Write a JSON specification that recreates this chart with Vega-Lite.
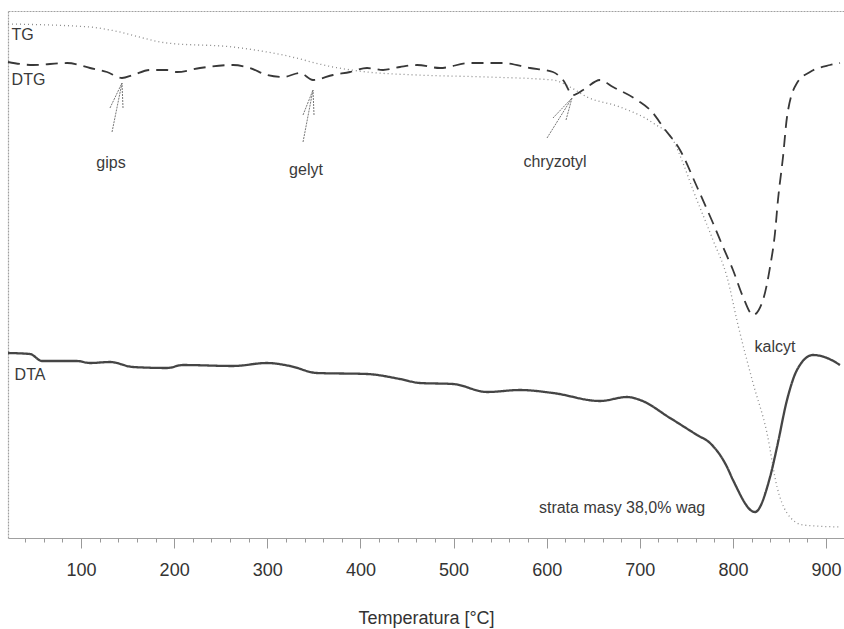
{
  "$schema": "https://vega.github.io/schema/vega-lite/v6.json",
  "width": 836,
  "height": 527,
  "autosize": {"type": "none"},
  "padding": {"left": 8, "top": 11, "right": 0, "bottom": 91},
  "background": "white",
  "config": {
    "view": {"stroke": null},
    "axisY": {"labels": false, "ticks": false, "grid": false, "domain": true, "domainColor": "#a0a0a0", "domainWidth": 1.2, "domainDash": [2, 1]},
    "axisX": {"grid": false}
  },
  "datasets": {
    "curves": [
      {"T": 21.6, "v": 514, "series": "TG"},
      {"T": 109.7, "v": 511, "series": "TG"},
      {"T": 131.1, "v": 508, "series": "TG"},
      {"T": 192.3, "v": 495, "series": "TG"},
      {"T": 263.2, "v": 491, "series": "TG"},
      {"T": 316.9, "v": 483, "series": "TG"},
      {"T": 370.6, "v": 471, "series": "TG"},
      {"T": 407.1, "v": 466, "series": "TG"},
      {"T": 460.8, "v": 463, "series": "TG"},
      {"T": 536.0, "v": 461, "series": "TG"},
      {"T": 606.8, "v": 458, "series": "TG"},
      {"T": 625.1, "v": 451, "series": "TG"},
      {"T": 643.4, "v": 441, "series": "TG"},
      {"T": 678.8, "v": 431, "series": "TG"},
      {"T": 714.2, "v": 415, "series": "TG"},
      {"T": 735.7, "v": 398, "series": "TG"},
      {"T": 746.4, "v": 375, "series": "TG"},
      {"T": 757.2, "v": 348, "series": "TG"},
      {"T": 778.6, "v": 298, "series": "TG"},
      {"T": 793.7, "v": 261, "series": "TG"},
      {"T": 805.5, "v": 213, "series": "TG"},
      {"T": 821.6, "v": 155, "series": "TG"},
      {"T": 836.6, "v": 105, "series": "TG"},
      {"T": 847.4, "v": 51, "series": "TG"},
      {"T": 858.1, "v": 25, "series": "TG"},
      {"T": 875.3, "v": 13, "series": "TG"},
      {"T": 915.0, "v": 11, "series": "TG"},

      {"T": 21.6, "v": 476, "series": "DTG"},
      {"T": 48.5, "v": 473, "series": "DTG"},
      {"T": 85.0, "v": 475, "series": "DTG"},
      {"T": 109.7, "v": 470, "series": "DTG"},
      {"T": 127.9, "v": 466, "series": "DTG"},
      {"T": 144.0, "v": 460, "series": "DTG"},
      {"T": 155.8, "v": 463, "series": "DTG"},
      {"T": 174.1, "v": 468, "series": "DTG"},
      {"T": 192.3, "v": 468, "series": "DTG"},
      {"T": 203.1, "v": 466, "series": "DTG"},
      {"T": 227.8, "v": 470, "series": "DTG"},
      {"T": 263.2, "v": 473, "series": "DTG"},
      {"T": 281.5, "v": 470, "series": "DTG"},
      {"T": 299.7, "v": 463, "series": "DTG"},
      {"T": 316.9, "v": 461, "series": "DTG"},
      {"T": 335.2, "v": 465, "series": "DTG"},
      {"T": 349.1, "v": 458, "series": "DTG"},
      {"T": 370.6, "v": 463, "series": "DTG"},
      {"T": 388.9, "v": 466, "series": "DTG"},
      {"T": 407.1, "v": 470, "series": "DTG"},
      {"T": 424.3, "v": 468, "series": "DTG"},
      {"T": 442.5, "v": 471, "series": "DTG"},
      {"T": 460.8, "v": 473, "series": "DTG"},
      {"T": 485.5, "v": 470, "series": "DTG"},
      {"T": 517.7, "v": 475, "series": "DTG"},
      {"T": 553.1, "v": 475, "series": "DTG"},
      {"T": 582.1, "v": 470, "series": "DTG"},
      {"T": 606.8, "v": 466, "series": "DTG"},
      {"T": 617.6, "v": 458, "series": "DTG"},
      {"T": 628.3, "v": 443, "series": "DTG"},
      {"T": 639.1, "v": 448, "series": "DTG"},
      {"T": 657.3, "v": 458, "series": "DTG"},
      {"T": 671.3, "v": 451, "series": "DTG"},
      {"T": 697.0, "v": 438, "series": "DTG"},
      {"T": 714.2, "v": 425, "series": "DTG"},
      {"T": 725.0, "v": 411, "series": "DTG"},
      {"T": 743.2, "v": 388, "series": "DTG"},
      {"T": 761.5, "v": 351, "series": "DTG"},
      {"T": 778.6, "v": 315, "series": "DTG"},
      {"T": 789.4, "v": 291, "series": "DTG"},
      {"T": 800.1, "v": 268, "series": "DTG"},
      {"T": 810.9, "v": 241, "series": "DTG"},
      {"T": 821.6, "v": 223, "series": "DTG"},
      {"T": 832.3, "v": 238, "series": "DTG"},
      {"T": 839.9, "v": 271, "series": "DTG"},
      {"T": 845.2, "v": 305, "series": "DTG"},
      {"T": 848.4, "v": 338, "series": "DTG"},
      {"T": 853.8, "v": 381, "series": "DTG"},
      {"T": 858.1, "v": 421, "series": "DTG"},
      {"T": 868.8, "v": 455, "series": "DTG"},
      {"T": 882.8, "v": 466, "series": "DTG"},
      {"T": 904.3, "v": 473, "series": "DTG"},
      {"T": 915.0, "v": 475, "series": "DTG"},

      {"T": 21.6, "v": 185, "series": "DTA"},
      {"T": 45.2, "v": 184, "series": "DTA"},
      {"T": 58.1, "v": 177, "series": "DTA"},
      {"T": 95.7, "v": 177, "series": "DTA"},
      {"T": 109.7, "v": 175, "series": "DTA"},
      {"T": 131.1, "v": 176, "series": "DTA"},
      {"T": 155.8, "v": 171, "series": "DTA"},
      {"T": 192.3, "v": 170, "series": "DTA"},
      {"T": 209.5, "v": 173, "series": "DTA"},
      {"T": 263.2, "v": 172, "series": "DTA"},
      {"T": 299.7, "v": 175, "series": "DTA"},
      {"T": 324.4, "v": 172, "series": "DTA"},
      {"T": 353.4, "v": 165, "series": "DTA"},
      {"T": 407.1, "v": 164, "series": "DTA"},
      {"T": 442.5, "v": 159, "series": "DTA"},
      {"T": 464.0, "v": 155, "series": "DTA"},
      {"T": 499.5, "v": 154, "series": "DTA"},
      {"T": 536.0, "v": 146, "series": "DTA"},
      {"T": 571.4, "v": 148, "series": "DTA"},
      {"T": 606.8, "v": 145, "series": "DTA"},
      {"T": 657.3, "v": 137, "series": "DTA"},
      {"T": 686.3, "v": 141, "series": "DTA"},
      {"T": 700.3, "v": 138, "series": "DTA"},
      {"T": 732.5, "v": 120, "series": "DTA"},
      {"T": 761.5, "v": 103, "series": "DTA"},
      {"T": 775.4, "v": 95, "series": "DTA"},
      {"T": 793.7, "v": 71, "series": "DTA"},
      {"T": 800.1, "v": 58, "series": "DTA"},
      {"T": 823.7, "v": 26, "series": "DTA"},
      {"T": 839.9, "v": 61, "series": "DTA"},
      {"T": 847.4, "v": 91, "series": "DTA"},
      {"T": 858.1, "v": 138, "series": "DTA"},
      {"T": 868.8, "v": 168, "series": "DTA"},
      {"T": 886.0, "v": 183, "series": "DTA"},
      {"T": 901.1, "v": 180, "series": "DTA"},
      {"T": 915.0, "v": 173, "series": "DTA"}
    ],
    "labels": [
      {"T": 37.2, "v": 503, "text": "TG"},
      {"T": 43.6, "v": 458, "text": "DTG"},
      {"T": 45.2, "v": 163, "text": "DTA"},
      {"T": 132.2, "v": 375, "text": "gips"},
      {"T": 341.6, "v": 368, "text": "gelyt"},
      {"T": 609.0, "v": 376, "text": "chryzotyl"},
      {"T": 845.2, "v": 191, "text": "kalcyt"},
      {"T": 681.0, "v": 30, "text": "strata masy 38,0% wag"}
    ],
    "arrows": [
      {"T": 133.3, "v": 406, "T2": 144.0, "v2": 455},
      {"T": 131.1, "v": 430, "T2": 144.0, "v2": 455},
      {"T": 145.1, "v": 430, "T2": 144.0, "v2": 455},
      {"T": 338.4, "v": 396, "T2": 349.1, "v2": 448},
      {"T": 338.4, "v": 423, "T2": 349.1, "v2": 448},
      {"T": 350.2, "v": 423, "T2": 349.1, "v2": 448},
      {"T": 600.4, "v": 400, "T2": 627.2, "v2": 440},
      {"T": 606.8, "v": 420, "T2": 627.2, "v2": 440},
      {"T": 620.8, "v": 418, "T2": 627.2, "v2": 440}
    ]
  },
  "resolve": {"axis": {"x": "independent"}},
  "layer": [
    {
      "data": {"name": "curves"},
      "mark": {"type": "line", "interpolate": "monotone"},
      "encoding": {
        "x": {
          "field": "T", "type": "quantitative",
          "scale": {"domain": [21.6, 919.3], "nice": false, "zero": false},
          "axis": {
            "orient": "bottom",
            "values": [100, 200, 300, 400, 500, 600, 700, 800, 900],
            "tickSize": 10, "tickColor": "#999", "tickWidth": 1,
            "domain": true, "domainColor": "#a0a0a0", "domainWidth": 1.2,
            "labelFont": "Liberation Sans", "labelFontSize": 18, "labelColor": "#333",
            "labelPadding": 13,
            "title": "Temperatura [°C]", "titleFont": "Liberation Sans", "titleFontSize": 18,
            "titleFontWeight": "normal", "titleColor": "#333", "titlePadding": 30
          }
        },
        "y": {"field": "v", "type": "quantitative", "title": null,
              "scale": {"domain": [0, 527], "nice": false, "zero": false}},
        "color": {"field": "series", "type": "nominal", "legend": null,
                  "scale": {"domain": ["TG", "DTG", "DTA"], "range": ["#8c8c8c", "#383838", "#454545"]}},
        "strokeDash": {"field": "series", "type": "nominal", "legend": null,
                       "scale": {"domain": ["TG", "DTG", "DTA"], "range": [[1, 3], [12, 7], [1, 0]]}},
        "strokeWidth": {"field": "series", "type": "nominal", "legend": null,
                        "scale": {"domain": ["TG", "DTG", "DTA"], "range": [1.3, 2.3, 1.7]}}
      }
    },
    {
      "data": {"name": "arrows"},
      "mark": {"type": "rule", "color": "#777", "strokeWidth": 1, "strokeDash": [2, 1]},
      "encoding": {
        "x": {"field": "T", "type": "quantitative",
              "axis": {"orient": "bottom", "values": [40, 60, 80, 120, 140, 160, 180, 220, 240, 260, 280, 320, 340, 360, 380, 420, 440, 460, 480, 520, 540, 560, 580, 620, 640, 660, 680, 720, 740, 760, 780, 820, 840, 860, 880, 900],
                       "tickSize": 4, "tickColor": "#999", "labels": false, "domain": false, "title": null}},
        "x2": {"field": "T2"},
        "y": {"field": "v", "type": "quantitative", "title": null},
        "y2": {"field": "v2"}
      }
    },
    {
      "data": {"name": "labels"},
      "mark": {"type": "text", "font": "Liberation Sans", "fontSize": 16, "color": "#3a3a3a", "align": "center", "baseline": "middle"},
      "encoding": {
        "x": {"field": "T", "type": "quantitative",
              "axis": {"orient": "top", "ticks": false, "labels": false, "domain": true, "domainColor": "#a0a0a0", "domainWidth": 1.2, "domainDash": [2, 1], "title": null}},
        "y": {"field": "v", "type": "quantitative", "title": null},
        "text": {"field": "text"}
      }
    }
  ]
}
